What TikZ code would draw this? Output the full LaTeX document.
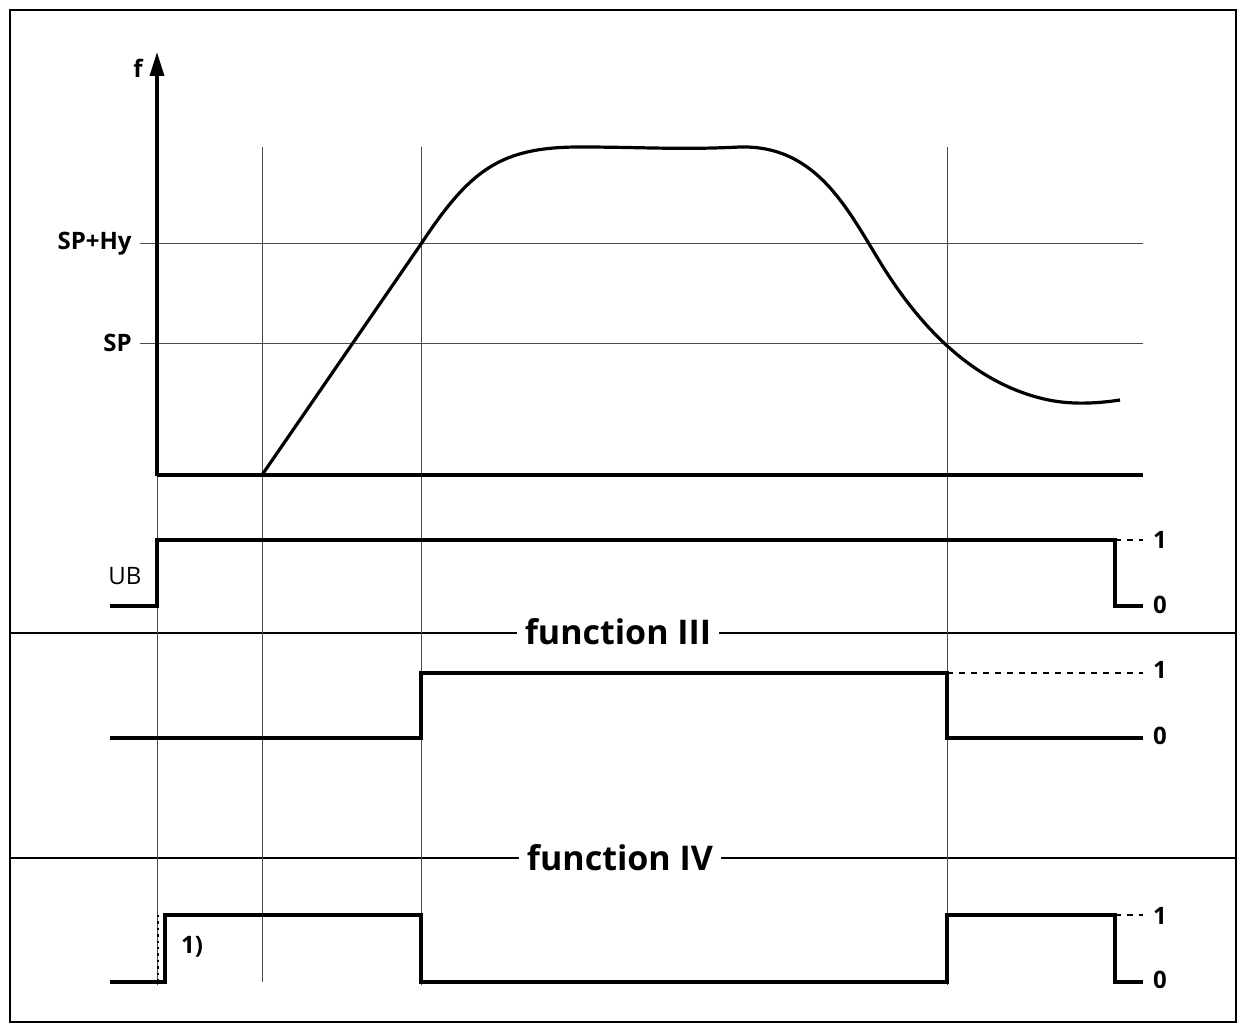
\documentclass[tikz,border=0pt]{standalone}
\usepackage{fontspec}
\setmainfont{Open Sans}
\usetikzlibrary{arrows.meta}
\begin{document}
\begin{tikzpicture}[x=0.5pt,y=-0.5pt,
  thin line/.style={line width=0.5pt,black!70},
  sig/.style={line width=1.6pt,line join=miter},
  lbl/.style={font=\bfseries\fontsize{12}{14}\selectfont,inner sep=1pt},
  ttl/.style={font=\bfseries\fontsize{17}{20}\selectfont,fill=white,inner sep=4pt}]
\useasboundingbox (0,0) rectangle (1240,1026);
\draw[line width=1pt] (10,10) rectangle (1236,1022);
\draw[line width=0.8pt] (10,633) -- (1236,633);
\draw[line width=0.8pt] (10,858) -- (1236,858);
% thin vertical lines
\draw[thin line] (157,475) -- (157,985);
\draw[thin line] (262,147) -- (262,982);
\draw[thin line] (421,147) -- (421,985);
\draw[thin line] (947,147) -- (947,985);
\draw[thin line] (140,244) -- (1143,244);
\draw[thin line] (140,343) -- (1143,343);
% axis
\draw[line width=1.6pt,-{Triangle[length=12pt,width=7pt]}] (157,476) -- (157,52);
\draw[sig] (157,475) -- (1143,475);
\node[lbl] (f) at (138,68) {f};
\node[lbl,anchor=east] (sphy) at (134,244) {SP+Hy};
\node[lbl,anchor=east] (sp) at (134,343) {SP};
% curve
\draw[line width=1.6pt] (262,475) -- (421,244)
  .. controls (470,170) and (500,147) .. (580,147)
  .. controls (640,147) and (680,150) .. (740,147)
  .. controls (820,145) and (850,215) .. (885,270)
  .. controls (920,325) and (970,380) .. (1040,398)
  .. controls (1070,406) and (1100,403) .. (1120,400);
% UB
\draw[sig] (110,606) -- (157,606) -- (157,540) -- (1115,540) -- (1115,606) -- (1143,606);
\draw[dashed,line width=0.6pt] (1115,540) -- (1143,540);
\node[font=\fontsize{12}{14}\selectfont] (ub) at (125,576) {UB};
\node[lbl] (u1) at (1160,540) {1};
\node[lbl] (u0) at (1160,605) {0};
% function III
\node[ttl] (t3) at (618,632) {function III};
\draw[sig] (110,738) -- (421,738) -- (421,673) -- (947,673) -- (947,738) -- (1143,738);
\draw[dashed,line width=0.6pt] (947,673) -- (1143,673);
\node[lbl] (a1) at (1160,670) {1};
\node[lbl] (a0) at (1160,736) {0};
% function IV
\node[ttl] (t4) at (620,858) {function IV};
\draw[sig] (110,982) -- (165,982) -- (165,915) -- (421,915) -- (421,982) -- (947,982) -- (947,915) -- (1115,915) -- (1115,982) -- (1143,982);
\draw[dotted,line width=1.2pt] (158,915) -- (158,982);
\draw[dashed,line width=0.6pt] (1115,915) -- (1143,915);
\node[lbl] (n1) at (192,947) {1)};
\node[lbl] (b1) at (1160,916) {1};
\node[lbl] (b0) at (1160,980) {0};
\end{tikzpicture}
\end{document}
